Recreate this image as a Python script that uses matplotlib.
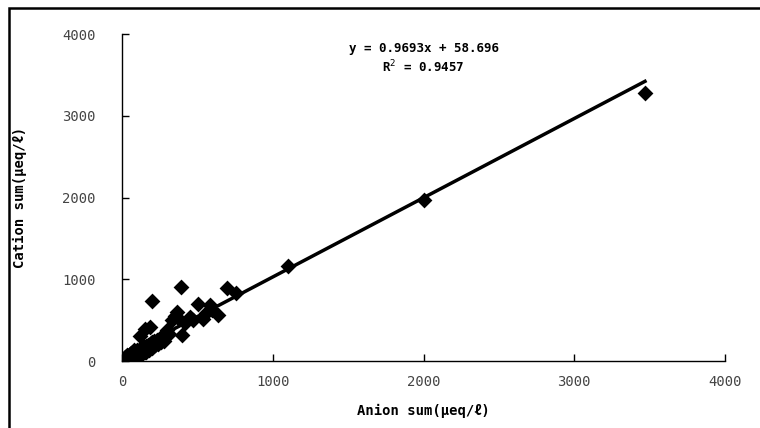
import matplotlib
matplotlib.use('Agg')
import matplotlib.pyplot as plt
from matplotlib.patches import Rectangle
import numpy as np

plt.rcParams['font.family'] = ['DejaVu Sans Mono', 'Noto Sans CJK KR', 'DejaVu Sans']

# ── data (μeq/ℓ) ──
anion = [20, 30, 40, 45, 50, 55, 60, 65, 70, 80, 85, 90, 100, 105, 110, 120, 125, 130,
         140, 145, 150, 160, 170, 180, 190, 200, 210, 230, 250, 270, 290, 310,
         40, 60, 100, 130, 150, 80, 60, 30, 120, 170, 220,
         35, 50, 70, 90, 110, 140, 160, 180, 200, 240, 260, 280,
         119, 150, 186, 197, 300, 330, 350, 363, 380, 389, 396, 420, 450, 470,
         502, 540, 560, 584, 600, 639, 694, 756, 1103, 2003, 3469]
cation = [50, 70, 40, 60, 80, 55, 60, 85, 90, 100, 95, 70, 130, 120, 110, 150, 140, 120,
          160, 170, 140, 180, 200, 190, 220, 230, 250, 260, 280, 300, 320, 330,
          20, 30, 80, 100, 110, 130, 100, 30, 90, 150, 200,
          15, 25, 45, 55, 75, 95, 115, 140, 165, 210, 230, 250,
          306, 390, 420, 734, 380, 502, 550, 603, 520, 901, 318, 470, 540, 500,
          697, 510, 590, 685, 620, 563, 889, 836, 1162, 1969, 3278]

slope, intercept = 0.9693, 58.696
r2 = 0.9457

fig = plt.figure(figsize=(7.6, 4.28), dpi=100)
ax = fig.add_axes([0.1605, 0.1565, 0.7935, 0.764])

ax.scatter(anion, cation, marker='D', s=65, color='black', linewidths=0, zorder=2)
xx = np.array([min(anion), max(anion)])
ax.plot(xx, slope * xx + intercept, color='black', linewidth=2.5, zorder=3)

ax.text(0.50, 0.955, f'y = {slope}x + {intercept}', transform=ax.transAxes,
        ha='center', va='center', fontsize=9, fontweight='bold')
ax.text(0.50, 0.90, f'R$^2$ = {r2}', transform=ax.transAxes,
        ha='center', va='center', fontsize=9, fontweight='bold')

ax.set_xlim(0, 4000); ax.set_ylim(0, 4000)
ax.set_xticks([0, 1000, 2000, 3000, 4000])
ax.set_yticks([0, 1000, 2000, 3000, 4000])
ax.tick_params(direction='in', length=5, width=1, labelsize=10, labelcolor='#444444')
ax.tick_params(axis='x', pad=10)
ax.tick_params(axis='y', pad=19)
for s in ['top', 'right']:
    ax.spines[s].set_visible(False)
for s in ['left', 'bottom']:
    ax.spines[s].set_linewidth(1)

ax.set_xlabel('Anion sum(μeq/ℓ)', fontsize=10, fontweight='bold')
ax.set_ylabel('Cation sum(μeq/ℓ)', fontsize=10, fontweight='bold')
ax.xaxis.set_label_coords(0.5, -0.13)
ax.yaxis.set_label_coords(-0.158, 0.5)

# outer frame, as in the pasted spreadsheet chart
fig.add_artist(Rectangle((9 / 760, -0.1), 1.0, 1.1 - 8 / 428, transform=fig.transFigure,
                         fill=False, edgecolor='black', linewidth=1.8, clip_on=False))

fig.savefig('out.png', dpi=100)
